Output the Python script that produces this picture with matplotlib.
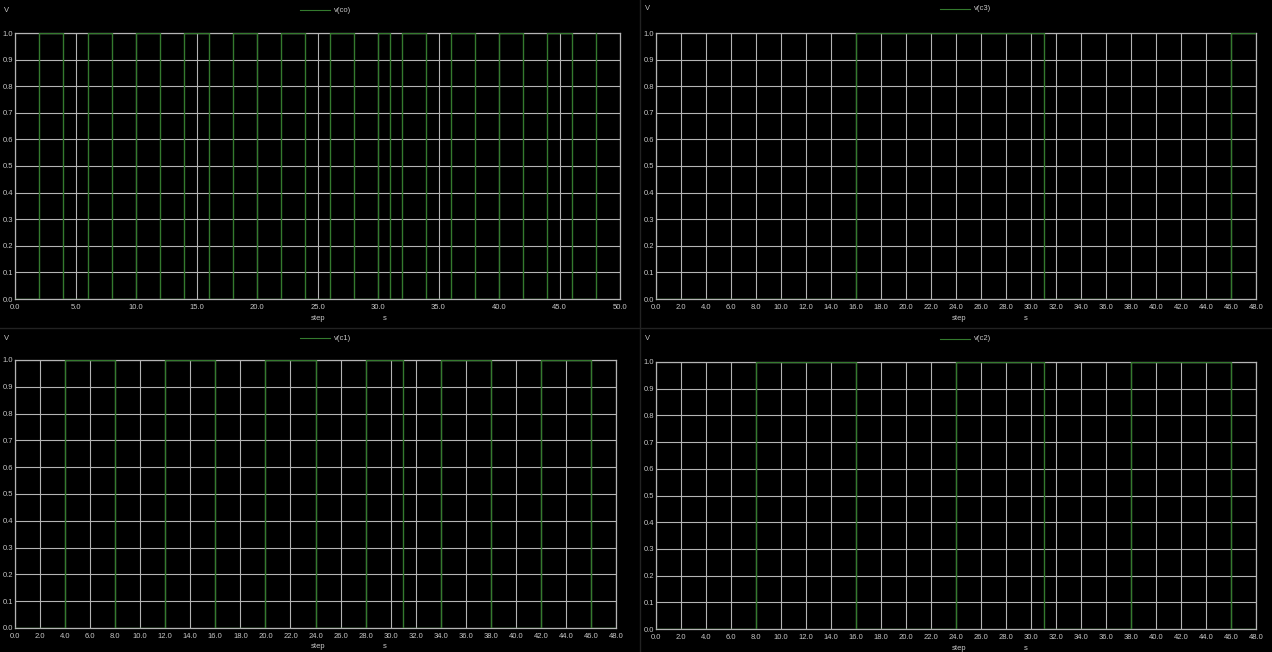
import matplotlib
matplotlib.use("Agg")
import matplotlib.pyplot as plt
from matplotlib.lines import Line2D

plt.rcParams['font.family'] = ['Liberation Sans', 'DejaVu Sans']

# ---- data: edge times (s) and logic levels (V), drawn as steps-post ----
c0_t = [0, 2, 4, 6, 8, 10, 12, 14, 16, 18, 20, 22, 24, 26, 28, 30, 31, 32, 34, 36, 38, 40, 42, 44, 46, 48]
c0_v = [0, 1, 0, 1, 0, 1, 0, 1, 0, 1, 0, 1, 0, 1, 0, 1, 0, 1, 0, 1, 0, 1, 0, 1, 0, 1]

c1_t = [0, 4, 8, 12, 16, 20, 24, 28, 31, 34, 38, 42, 46, 48]
c1_v = [0, 1, 0, 1, 0, 1, 0, 1, 0, 1, 0, 1, 0, 0]

c2_t = [0, 8, 16, 24, 31, 38, 46, 48]
c2_v = [0, 1, 0, 1, 0, 1, 0, 0]

c3_t = [0, 16, 31, 46, 48]
c3_v = [0, 1, 0, 1, 1]

x_ticks_c0 = [0, 5, 10, 15, 20, 25, 30, 35, 40, 45, 50]
x_ticks_other = list(range(0, 49, 2))
y_ticks = [0.0, 0.1, 0.2, 0.3, 0.4, 0.5, 0.6, 0.7, 0.8, 0.9, 1.0]

W, H = 1272, 652
BG = 'black'
GRID = '#b4b4b4'
GREEN = '#347a2e'
TXT = '#c8c8c8'

fig = plt.figure(figsize=(W / 100, H / 100), dpi=100, facecolor=BG)


def px_axes(x0, x1, ytop, ybot):
    return fig.add_axes([x0 / W, 1 - ybot / H, (x1 - x0) / W, (ybot - ytop) / H])


def ftext(x, y, s, **kw):
    fig.text(x / W, 1 - y / H, s, color=TXT, fontsize=5.5, va='center', **kw)


panels = [
    # (x0, x1, ytop, ybot, t, v, xmax, xticks, name, legend_x, legend_y)
    (15, 620, 33, 299, c0_t, c0_v, 50, x_ticks_c0, 'v(co)', 300, 10),
    (656, 1256, 33, 299, c3_t, c3_v, 48, x_ticks_other, 'v(c3)', 940, 9),
    (15, 616, 360, 628, c1_t, c1_v, 48, x_ticks_other, 'v(c1)', 300, 338),
    (656, 1256, 362, 629, c2_t, c2_v, 48, x_ticks_other, 'v(c2)', 940, 339),
]

for (x0, x1, yt, yb, t, v, xmax, xt, name, lx, ly) in panels:
    ax = px_axes(x0, x1, yt, yb)
    ax.set_facecolor(BG)
    ax.plot(t, v, drawstyle='steps-post', color=GREEN, lw=1.0, zorder=3)
    ax.set_xlim(0, xmax)
    ax.set_ylim(0, 1)
    ax.set_xticks(xt)
    ax.set_xticklabels([f"{x:.1f}" for x in xt])
    ax.set_yticks(y_ticks)
    ax.set_yticklabels([f"{y:.1f}" for y in y_ticks])
    ax.grid(True, color=GRID, lw=0.8, zorder=1)
    ax.set_axisbelow(True)
    ax.tick_params(axis='x', length=0, labelsize=5.5, labelcolor=TXT, pad=3.5)
    ax.tick_params(axis='y', length=0, labelsize=5.5, labelcolor=TXT, pad=1.5)
    for s in ax.spines.values():
        s.set_color(GRID)
        s.set_linewidth(0.9)
    # y unit label
    ftext(x0 - 11, ly, 'V', ha='left')
    # legend
    fig.add_artist(Line2D([lx / W, (lx + 30) / W], [1 - ly / H, 1 - ly / H],
                          color=GREEN, lw=0.8))
    ftext(lx + 34, ly, name, ha='left')
    # x label
    xc = x0 + 303
    ftext(xc, yb + 19, 'step', ha='center')
    ftext(xc + 67, yb + 19, 's', ha='center')

# panel separators
fig.add_artist(Line2D([0, 1], [1 - 328 / H, 1 - 328 / H], color='#222222', lw=1))
fig.add_artist(Line2D([640 / W, 640 / W], [0, 1], color='#222222', lw=1))

fig.savefig('out.png', dpi=100, facecolor=BG)
